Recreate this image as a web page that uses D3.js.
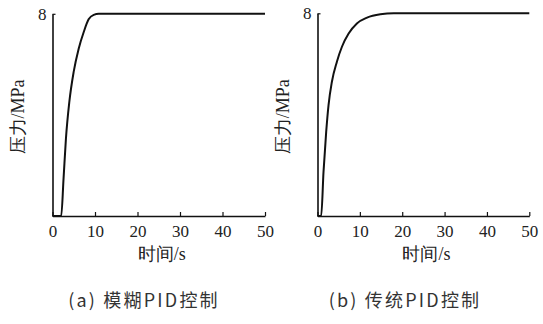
<!DOCTYPE html>
<html>
<head>
<meta charset="utf-8">
<script src="https://cdn.jsdelivr.net/npm/d3@7"></script>
<style>
  body { margin: 0; background: #fff; }
  svg { display: block; }
  .serif, .serif text { font-family: 'Liberation Serif', 'DejaVu Serif', serif !important; }
</style>
</head>
<body>
<div id="chart"></div>
<script>
'use strict';

// data (time in s, pressure in MPa)
const xTicks = [0, 10, 20, 30, 40, 50];
const yTicks = [8];

const fuzzyTime = [0, 2.05, 2.6, 3.16, 3.95, 4.98, 6.16, 7.35, 8.5, 9.7, 10.9, 50];
const fuzzyPressure = [0, 0, 1.48, 3.06, 4.5, 5.7, 6.62, 7.28, 7.78, 7.96, 8, 8];

const pidTime = [0, 0.87, 1.42, 2.05, 2.6, 3.4, 4.58, 5.77, 7.35, 9.3, 11.7, 14.85, 18, 50];
const pidPressure = [0, 0, 1.74, 3.32, 4.37, 5.3, 6.09, 6.68, 7.2, 7.6, 7.83, 7.96, 8, 8];

const captions = ['(a) 模糊PID控制', '(b) 传统PID控制'];
const xLabel = '时间/s';
const yLabel = '压力/MPa';

const width = 543;
const height = 324;

const svg = d3.select('#chart')
  .append('svg')
  .attr('width', width)
  .attr('height', height);

function drawPanel(x0, x1, yTop, times, values, caption, captionX) {
  const yBottom = 216;
  const x = d3.scaleLinear().domain([0, 50]).range([x0, x1]);
  const y = d3.scaleLinear().domain([0, 8]).range([yBottom, yTop]);

  const g = svg.append('g');

  // x axis, ticks point inward
  const xAxis = g.append('g')
    .attr('class', 'serif')
    .attr('transform', `translate(0,${yBottom})`)
    .call(d3.axisBottom(x).tickValues(xTicks).tickSizeInner(-4).tickSizeOuter(0).tickPadding(9));
  xAxis.select('.domain').attr('stroke', '#111').attr('stroke-width', 1.6);
  xAxis.selectAll('.tick line').attr('stroke', '#111').attr('stroke-width', 1.2);
  xAxis.selectAll('.tick text')
    .attr('font-size', 17)
    .attr('fill', '#222');

  // y axis, only the 8 tick
  const yAxis = g.append('g')
    .attr('class', 'serif')
    .attr('transform', `translate(${x0},0)`)
    .call(d3.axisLeft(y).tickValues(yTicks).tickSizeInner(-3).tickSizeOuter(0).tickPadding(6));
  yAxis.select('.domain').attr('stroke', '#111').attr('stroke-width', 1.6);
  yAxis.selectAll('.tick line').attr('stroke', '#111').attr('stroke-width', 1.2);
  yAxis.selectAll('.tick text')
    .attr('font-size', 17)
    .attr('fill', '#222');

  const line = d3.line()
    .x((d, i) => x(times[i]))
    .y(d => y(d))
    .curve(d3.curveMonotoneX);

  g.append('path')
    .datum(values)
    .attr('fill', 'none')
    .attr('stroke', '#111')
    .attr('stroke-width', 2)
    .attr('d', line);

  g.append('text')
    .attr('class', 'serif')
    .attr('x', (x0 + x1) / 2 + 3)
    .attr('y', 260)
    .attr('text-anchor', 'middle')
    .attr('font-size', 18)
    .attr('fill', '#222')
    .text(xLabel);

  g.append('text')
    .attr('class', 'serif')
    .attr('transform', `translate(${x0 - 29},${(yTop + yBottom) / 2 + 2}) rotate(-90)`)
    .attr('text-anchor', 'middle')
    .attr('font-size', 18)
    .attr('fill', '#222')
    .text(yLabel);

  svg.append('text')
    .attr('x', captionX)
    .attr('y', 307)
    .attr('text-anchor', 'middle')
    .attr('font-family', '"Noto Sans CJK SC", "Noto Sans", sans-serif')
    .attr('font-size', 18)
    .attr('letter-spacing', 2.2)
    .attr('fill', '#333')
    .text(caption);
}

drawPanel(52.5, 265, 13.8, fuzzyTime, fuzzyPressure, captions[0], 144);
drawPanel(317.5, 529.3, 13.3, pidTime, pidPressure, captions[1], 405);
</script>
</body>
</html>
